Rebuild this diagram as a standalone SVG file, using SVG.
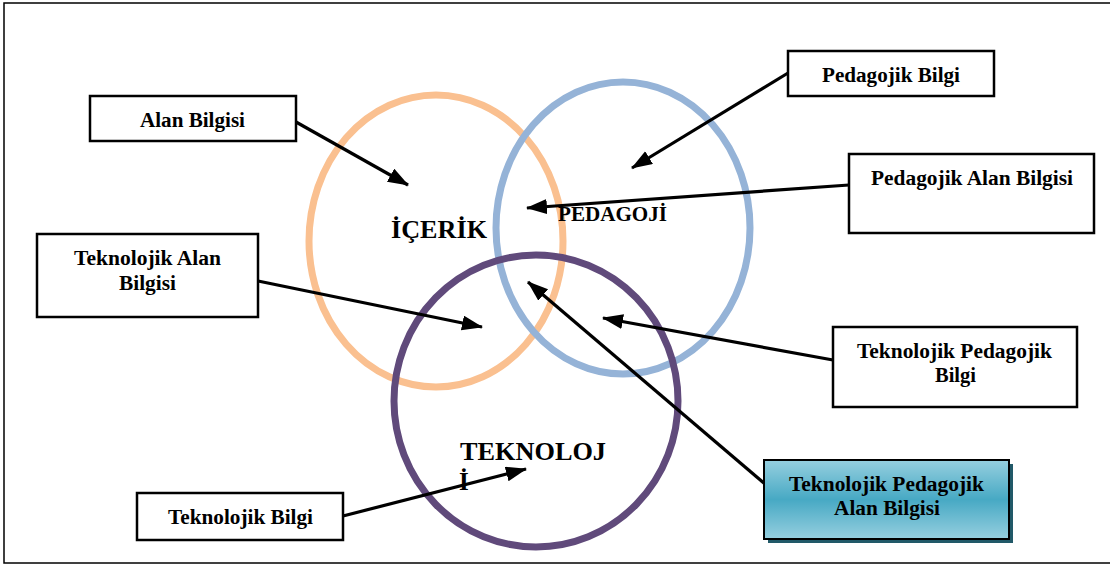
<svg xmlns="http://www.w3.org/2000/svg" width="1110" height="566" viewBox="0 0 1110 566">
<defs>
<style>
.box{fill:#fff;stroke:#000;stroke-width:2.5}
.lbl{font-family:"Liberation Serif","Times New Roman",serif;font-weight:bold;font-size:20px;fill:#000}
.big{font-family:"Liberation Serif","Times New Roman",serif;font-weight:bold;font-size:25px;fill:#000}
.arr{stroke:#000;stroke-width:3.2;fill:none;marker-end:url(#ah)}
.ring{fill:none;stroke-width:7}
</style>
<marker id="ah" markerUnits="userSpaceOnUse" markerWidth="24" markerHeight="18" refX="20" refY="7.5" orient="auto">
<path d="M0,0 L21,7.5 L0,15 Z" fill="#000"/>
</marker>
<linearGradient id="tg" x1="0" y1="0" x2="0" y2="1">
<stop offset="0" stop-color="#96CFDF"/>
<stop offset="0.5" stop-color="#47A9C4"/>
<stop offset="1" stop-color="#96CFDF"/>
</linearGradient>
</defs>
<rect x="4" y="3" width="1112" height="560" fill="#fff" stroke="#000" stroke-width="1.5"/>
<g id="circles">
<ellipse id="icerik" class="ring" cx="436" cy="241" rx="127" ry="146" stroke="#FAC090"/>
<ellipse id="pedagoji" class="ring" cx="623" cy="228" rx="127" ry="146" stroke="#95B3D7"/>
<ellipse id="teknoloji" class="ring" cx="536" cy="401" rx="142" ry="146" stroke="#604A7B"/>
</g>
<g id="circle-labels">
<text class="big" x="391" y="238" textLength="96" lengthAdjust="spacingAndGlyphs">İÇERİK</text>
<text class="lbl" x="558" y="221" font-size="19" textLength="109" lengthAdjust="spacingAndGlyphs">PEDAGOJİ</text>
<text class="big" x="460" y="460" textLength="146" lengthAdjust="spacingAndGlyphs">TEKNOLOJ</text>
<text class="big" x="459" y="490">İ</text>
</g>
<g id="connectors">
<line class="arr" x1="296" y1="122" x2="408" y2="185"/>
<line class="arr" x1="788" y1="73" x2="632" y2="168"/>
<line class="arr" x1="849" y1="185" x2="527" y2="208"/>
<line class="arr" x1="258" y1="281" x2="482" y2="327"/>
<line class="arr" x1="833" y1="360" x2="603" y2="318"/>
<line class="arr" x1="765" y1="484" x2="528" y2="282"/>
<line class="arr" x1="343" y1="516" x2="526" y2="469"/>
</g>
<g id="n-alan">
<rect class="box" x="90" y="96" width="206" height="45"/>
<text class="lbl" x="140" y="127" textLength="105" lengthAdjust="spacingAndGlyphs">Alan Bilgisi</text>
</g>
<g id="n-pedagojik">
<rect class="box" x="788" y="51" width="206" height="45"/>
<text class="lbl" x="822" y="82" textLength="138" lengthAdjust="spacingAndGlyphs">Pedagojik Bilgi</text>
</g>
<g id="n-pab">
<rect class="box" x="849" y="154" width="245" height="79"/>
<text class="lbl" x="871" y="185" textLength="202" lengthAdjust="spacingAndGlyphs">Pedagojik Alan Bilgisi</text>
</g>
<g id="n-tab">
<rect class="box" x="37" y="234" width="221" height="83"/>
<text class="lbl" x="74" y="265" textLength="147" lengthAdjust="spacingAndGlyphs">Teknolojik Alan</text>
<text class="lbl" x="119" y="290" textLength="57" lengthAdjust="spacingAndGlyphs">Bilgisi</text>
</g>
<g id="n-tpb">
<rect class="box" x="833" y="327" width="244" height="80"/>
<text class="lbl" x="857" y="358" textLength="195" lengthAdjust="spacingAndGlyphs">Teknolojik Pedagojik</text>
<text class="lbl" x="935" y="382" textLength="41" lengthAdjust="spacingAndGlyphs">Bilgi</text>
</g>
<g id="n-tb">
<rect class="box" x="137" y="493" width="206" height="47"/>
<text class="lbl" x="168" y="524" textLength="145" lengthAdjust="spacingAndGlyphs">Teknolojik Bilgi</text>
</g>
<g id="n-tpab">
<rect x="768" y="464" width="245" height="79" fill="#215968"/>
<rect x="764" y="460" width="245" height="79" fill="url(#tg)" stroke="#000" stroke-width="2"/>
<text class="lbl" x="789" y="491" textLength="195" lengthAdjust="spacingAndGlyphs">Teknolojik Pedagojik</text>
<text class="lbl" x="834" y="515" textLength="106" lengthAdjust="spacingAndGlyphs">Alan Bilgisi</text>
</g>
</svg>
